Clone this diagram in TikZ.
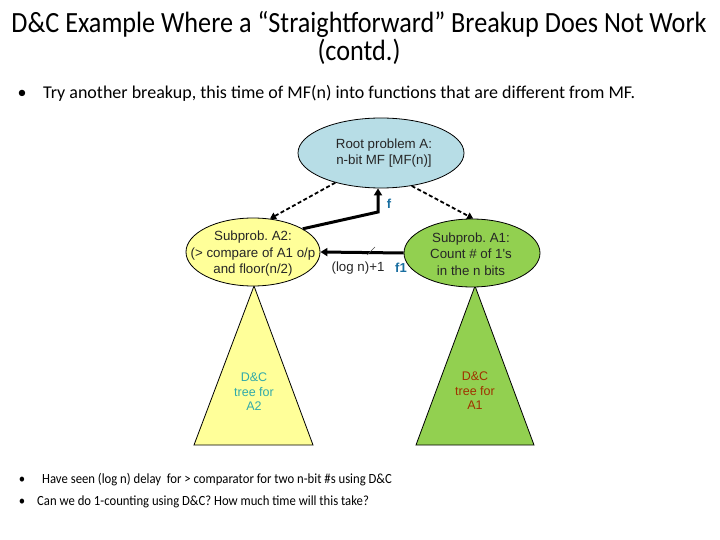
\documentclass[tikz,border=0pt]{standalone}
\usepackage{fontspec}
\setmainfont{Carlito}
\newfontfamily\arialf{Liberation Sans}
\usetikzlibrary{shapes.geometric,arrows.meta}
\definecolor{rootfill}{RGB}{183,221,230}
\definecolor{yelfill}{RGB}{255,255,153}
\definecolor{grnfill}{RGB}{146,208,80}
\definecolor{fblue}{RGB}{25,110,160}
\definecolor{tealtxt}{RGB}{50,170,170}
\definecolor{browntxt}{RGB}{160,50,0}
\begin{document}
\frenchspacing
\begin{tikzpicture}[x=1pt,y=-1pt,
  ell/.style={ellipse, draw=black, line width=0.8pt, inner sep=0pt},
  elltext/.style={align=center, inner sep=0pt,
    font=\arialf\fontsize{13.3}{16.5}\selectfont, text=black!85},
  tri/.style={draw=black, line width=0.8pt},
  tritext/.style={align=center, font=\arialf\fontsize{12.5}{14.5}\selectfont, inner sep=0pt},
  thickarrow/.style={line width=3pt, -{Triangle[length=7pt,width=8pt]}},
  dasharrow/.style={line width=1.8pt, dash pattern=on 4pt off 2.5pt, -{Triangle[length=6pt,width=7pt]}},
  bodytext/.style={anchor=base west, inner sep=0pt},
  bulletmark/.style={anchor=base, inner sep=0pt}
]
\useasboundingbox (0,0) rectangle (720,540);

% title
\node[anchor=base, inner sep=0pt, font=\fontsize{26.2}{30}\selectfont] (title1) at (359,33)
  {\scalebox{1}[1.12]{D\&C Example Where a “Straightforward” Breakup Does Not Work}};
\node[anchor=base, inner sep=0pt, font=\fontsize{26.2}{30}\selectfont] (title2) at (359,61)
  {\scalebox{1}[1.12]{(contd.)}};

% top bullet
\node[bulletmark, font=\fontsize{18}{21}\selectfont] (b0) at (22,99) {•};
\node[bodytext, font=\fontsize{18}{21}\selectfont] (t0) at (43,99)
  {Try another breakup, this time of MF(n) into functions that are different from MF.};

% triangles
\draw[tri, fill=yelfill] (254,286) -- (194,445) -- (313,445) -- cycle;
\draw[tri, fill=grnfill] (475,286) -- (416,445) -- (534,445) -- cycle;
\node[tritext, text=tealtxt] (tr2) at (254,392) {D\&C\\tree for\\A2};
\node[tritext, text=browntxt] (tr1) at (475,391) {D\&C\\tree for\\A1};

% ellipses
\node[ell, fill=rootfill, minimum width=166pt, minimum height=70pt] (root) at (381,153) {};
\node[elltext] (roott) at (384,153) {Root problem A:\\n-bit MF [MF(n)]};
\node[ell, fill=yelfill, minimum width=134pt, minimum height=68pt] (a2) at (253,252) {};
\node[elltext] (a2t) at (253,254) {Subprob. A2:\\(> compare of A1 o/p\\and floor(n/2)};
\node[ell, fill=grnfill, minimum width=136pt, minimum height=68pt] (a1) at (472,253) {};
\node[elltext] (a1t) at (471,254) {Subprob. A1:\\Count \# of 1's\\in the n bits};

% dashed breakup arrows
\draw[dasharrow] (root.213) -- (a2.63);
\draw[dasharrow] (root.313) -- (a1.88);

% thick arrows
\coordinate (bend) at (378,212);
\draw[thickarrow] (a2.25) -- (bend) -- (bend |- root.south);
\draw[thickarrow] (a1.west) -- (a2.east);
\coordinate (tk) at (371,251);
\draw[line width=0.6pt, black!70] (tk) +(-4,4) -- +(4,-4);

% labels
\node[font=\arialf\bfseries\fontsize{13}{14}\selectfont, text=fblue, inner sep=0pt] (lf) at (389,204) {f};
\node[font=\arialf\bfseries\fontsize{13}{14}\selectfont, text=fblue, inner sep=0pt] (lf1) at (401,268) {f1};
\node[font=\arialf\fontsize{13.3}{14}\selectfont, text=black!85, inner sep=0pt] (lg) at (358,268) {(log n)+1};

% bottom bullets
\node[bulletmark, font=\fontsize{12.7}{16}\selectfont] (b1) at (22,483) {\scalebox{1}[1.1]{•}};
\node[bodytext, font=\fontsize{12.7}{16}\selectfont] (t1) at (42,483)
  {\scalebox{1}[1.1]{Have seen (log n) delay\ \ for > comparator for two n-bit \#s using D\&C}};
\node[bulletmark, font=\fontsize{12.7}{16}\selectfont] (b2) at (22,505) {\scalebox{1}[1.1]{•}};
\node[bodytext, font=\fontsize{12.7}{16}\selectfont] (t2) at (37,505)
  {\scalebox{1}[1.1]{Can we do 1-counting using D\&C? How much time will this take?}};
\end{tikzpicture}
\end{document}
